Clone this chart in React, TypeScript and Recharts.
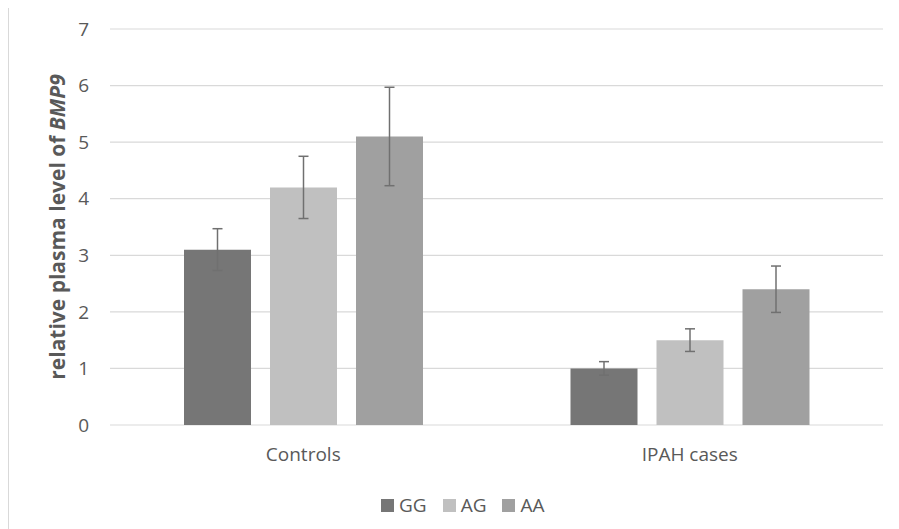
import React from 'react';
import { BarChart, Bar, XAxis, YAxis, CartesianGrid, ErrorBar, Legend } from 'recharts';

const categories = ['Controls', 'IPAH cases'];
const seriesNames = ['GG', 'AG', 'AA'];
const ggValues = [3.1, 1.0];
const agValues = [4.2, 1.5];
const aaValues = [5.1, 2.4];
const ggErrors = [0.37, 0.12];
const agErrors = [0.55, 0.2];
const aaErrors = [0.87, 0.41];
const yTicks = [0, 1, 2, 3, 4, 5, 6, 7];

const colors = ['#767676', '#c0c0c0', '#a0a0a0'];
const FONT = '"Open Sans", sans-serif';
const TEXT = '#595959';

const data = categories.map((c, i) => ({
  name: c,
  GG: ggValues[i],
  AG: agValues[i],
  AA: aaValues[i],
  ggErr: ggErrors[i],
  agErr: agErrors[i],
  aaErr: aaErrors[i],
}));

const YLabel = () => (
  <text
    x={57}
    y={219}
    transform="rotate(-90 57 219)"
    textAnchor="middle"
    fill={TEXT}
    fontFamily={FONT}
    fontSize={21}
    fontWeight="bold"
  >
    relative plasma level of <tspan fontStyle="italic">BMP9</tspan>
  </text>
);

const LegendContent = (props: any) => {
  const payload = [...(props.payload || [])].sort(
    (a: any, b: any) => seriesNames.indexOf(a.value) - seriesNames.indexOf(b.value)
  );
  return (
    <div style={{ display: 'flex', alignItems: 'center', paddingLeft: 373, height: 26, fontFamily: FONT, fontSize: 19, color: TEXT }}>
      {payload.map((p: any, i: number) => (
        <div key={i} style={{ display: 'flex', alignItems: 'center', marginRight: 16 }}>
          <div style={{ width: 13, height: 13, background: p.color, marginRight: 5 }} />
          <span style={{ lineHeight: '26px' }}>{p.value}</span>
        </div>
      ))}
    </div>
  );
};

export default function App() {
  return (
    <div style={{ position: 'relative', width: 891, height: 521 }}>
      <div style={{ position: 'absolute', left: 0, top: -2, width: 1, height: 523, background: '#d9d9d9' }} />
      <BarChart
        width={891}
        height={521}
        data={data}
        margin={{ top: 21, right: 16, left: 0, bottom: 38 }}
        barCategoryGap={74}
        barGap={19}
      >
        <CartesianGrid vertical={false} stroke="#d9d9d9" strokeWidth={1.2} />
        <XAxis
          dataKey="name"
          axisLine={false}
          tickLine={false}
          tickSize={0}
          tickMargin={23}
          height={40}
          tick={{ fill: TEXT, fontSize: 19, fontFamily: FONT }}
        />
        <YAxis
          domain={[0, 7]}
          ticks={yTicks}
          interval={0}
          axisLine={false}
          tickLine={false}
          tickSize={0}
          tickMargin={21}
          width={102}
          tick={{ fill: TEXT, fontSize: 19, fontFamily: FONT }}
          label={<YLabel />}
        />
        <Legend content={<LegendContent />} wrapperStyle={{ position: 'absolute', left: 0, top: 484, width: 891 }} />
        <Bar dataKey={seriesNames[0]} fill={colors[0]} isAnimationActive={false}>
          <ErrorBar dataKey="ggErr" width={5} stroke="#707070" strokeWidth={1.5} direction="y" isAnimationActive={false} />
        </Bar>
        <Bar dataKey={seriesNames[1]} fill={colors[1]} isAnimationActive={false}>
          <ErrorBar dataKey="agErr" width={5} stroke="#707070" strokeWidth={1.5} direction="y" isAnimationActive={false} />
        </Bar>
        <Bar dataKey={seriesNames[2]} fill={colors[2]} isAnimationActive={false}>
          <ErrorBar dataKey="aaErr" width={5} stroke="#707070" strokeWidth={1.5} direction="y" isAnimationActive={false} />
        </Bar>
      </BarChart>
    </div>
  );
}
